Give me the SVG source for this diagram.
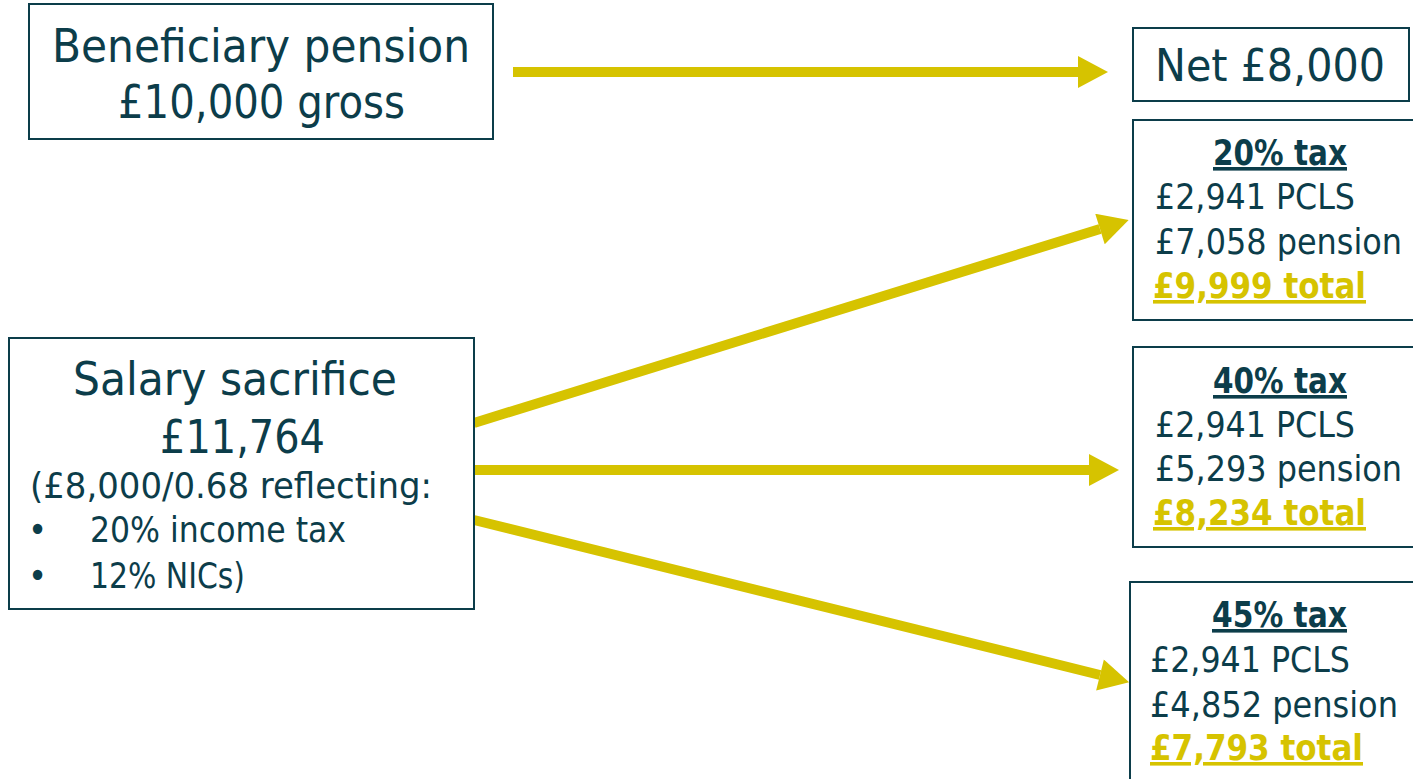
<svg xmlns="http://www.w3.org/2000/svg" width="1413" height="779" viewBox="0 0 1413 779">
<defs>
<style>
text{font-family:"DejaVu Sans Condensed","DejaVu Sans",sans-serif;font-stretch:condensed;fill:#0c3d4a}
.box{fill:#ffffff;stroke:#0c3d4a;stroke-width:2}
.big{font-size:46px}
.mid{font-size:36px}
.sm{font-size:36px}
.hd{font-size:36px;font-weight:bold;text-decoration:underline}
.tot{font-size:36px;font-weight:bold;fill:#d6c300;text-decoration:underline}
.arr{stroke:#d6c300;stroke-width:10;fill:none}
</style>
<marker id="ah" markerUnits="userSpaceOnUse" markerWidth="31" markerHeight="32" viewBox="0 0 30 32" refX="0" refY="16" orient="auto">
<path d="M0,0 L30,16 L0,32 z" fill="#d6c300"/>
</marker>
</defs>
<rect width="1413" height="779" fill="#ffffff"/>

<g id="connectors">
<line class="arr" x1="513" y1="72" x2="1078" y2="72" marker-end="url(#ah)"/>
<line class="arr" x1="474" y1="423" x2="1100" y2="229" marker-end="url(#ah)"/>
<line class="arr" x1="475" y1="470" x2="1089" y2="470" marker-end="url(#ah)"/>
<line class="arr" x1="474" y1="520" x2="1100" y2="675" marker-end="url(#ah)"/>
</g>

<g id="beneficiary">
<rect class="box" x="29" y="4" width="464" height="135"/>
<text class="big" x="52" y="62" textLength="418" lengthAdjust="spacingAndGlyphs">Beneficiary pension</text>
<text class="big" x="118" y="118" textLength="287" lengthAdjust="spacingAndGlyphs">£10,000 gross</text>
</g>

<g id="net">
<rect class="box" x="1133" y="28" width="276" height="73"/>
<text class="big" x="1155" y="81" textLength="230" lengthAdjust="spacingAndGlyphs" style="font-size:44px">Net £8,000</text>
</g>

<g id="salary">
<rect class="box" x="9" y="338" width="465" height="271"/>
<text class="big" x="73" y="395" textLength="324" lengthAdjust="spacingAndGlyphs">Salary sacrifice</text>
<text class="big" x="160" y="453" textLength="165" lengthAdjust="spacingAndGlyphs">£11,764</text>
<text class="mid" x="30" y="498" textLength="402" lengthAdjust="spacingAndGlyphs">(£8,000/0.68 reflecting:</text>
<text class="mid" x="28" y="542">•</text>
<text class="mid" x="90" y="542" textLength="256" lengthAdjust="spacingAndGlyphs">20% income tax</text>
<text class="mid" x="28" y="588">•</text>
<text class="mid" x="90" y="588" textLength="155" lengthAdjust="spacingAndGlyphs">12% NICs)</text>
</g>

<g id="tax20">
<rect class="box" x="1133" y="120" width="300" height="200"/>
<text class="hd" x="1213" y="165" textLength="134" lengthAdjust="spacingAndGlyphs">20% tax</text>
<text class="sm" x="1155" y="209" textLength="200" lengthAdjust="spacingAndGlyphs">£2,941 PCLS</text>
<text class="sm" x="1155" y="254" textLength="247" lengthAdjust="spacingAndGlyphs">£7,058 pension</text>
<text class="tot" x="1153" y="298" textLength="213" lengthAdjust="spacingAndGlyphs">£9,999 total</text>
</g>

<g id="tax40">
<rect class="box" x="1133" y="347" width="300" height="200"/>
<text class="hd" x="1213" y="393" textLength="134" lengthAdjust="spacingAndGlyphs">40% tax</text>
<text class="sm" x="1155" y="437" textLength="200" lengthAdjust="spacingAndGlyphs">£2,941 PCLS</text>
<text class="sm" x="1155" y="481" textLength="247" lengthAdjust="spacingAndGlyphs">£5,293 pension</text>
<text class="tot" x="1153" y="525" textLength="213" lengthAdjust="spacingAndGlyphs">£8,234 total</text>
</g>

<g id="tax45">
<rect class="box" x="1130" y="582" width="300" height="220"/>
<text class="hd" x="1212" y="627" textLength="135" lengthAdjust="spacingAndGlyphs">45% tax</text>
<text class="sm" x="1150" y="672" textLength="200" lengthAdjust="spacingAndGlyphs">£2,941 PCLS</text>
<text class="sm" x="1150" y="717" textLength="248" lengthAdjust="spacingAndGlyphs">£4,852 pension</text>
<text class="tot" x="1150" y="760" textLength="213" lengthAdjust="spacingAndGlyphs">£7,793 total</text>
</g>
</svg>
